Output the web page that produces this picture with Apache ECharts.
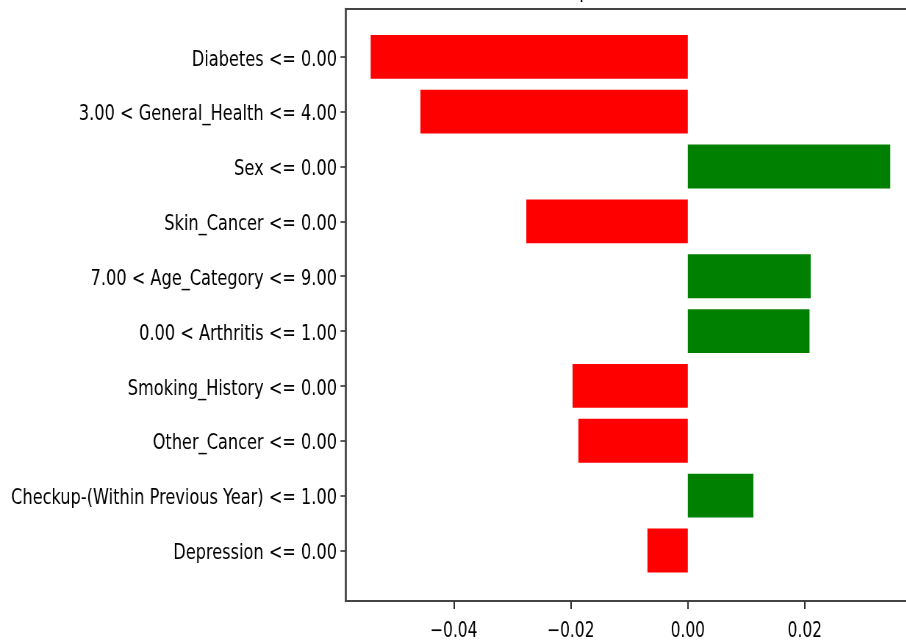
<!DOCTYPE html>
<html>
<head>
<meta charset="utf-8">
<title>Local explanation</title>
<script src="https://cdn.jsdelivr.net/npm/echarts@6/dist/echarts.min.js"></script>
<style>
  html, body { margin: 0; padding: 0; background: #fff; }
  #wrap { position: absolute; left: 0; top: 0; width: 906px; height: 640px; overflow: hidden; background: #fff; }
  #chart { position: absolute; left: 0; top: 0; width: 1500px; height: 640px; transform: scaleX(0.735); transform-origin: 0 0; }
</style>
</head>
<body>
<div id="wrap"><div id="chart"></div></div>
<script>
// Feature conditions (top to bottom) and their local weights
const categories = [
  'Diabetes <= 0.00',
  '3.00 < General_Health <= 4.00',
  'Sex <= 0.00',
  'Skin_Cancer <= 0.00',
  '7.00 < Age_Category <= 9.00',
  '0.00 < Arthritis <= 1.00',
  'Smoking_History <= 0.00',
  'Other_Cancer <= 0.00',
  'Checkup-(Within Previous Year) <= 1.00',
  'Depression <= 0.00'
];
const weights = [-0.0542, -0.0457, 0.0346, -0.0276, 0.0210, 0.0208, -0.0197, -0.0187, 0.0112, -0.0069];
const xTicks = [-0.04, -0.02, 0.00, 0.02];
const titleText = 'Local explanation for class 1';

// The figure is drawn wide and squeezed horizontally by K.
const K = 0.735;
const sx = v => v / K;

const X_MIN = -0.0585, X_MAX = 0.039;
const FRAME_LEFT = 345.5, FRAME_WIDTH = 570.5, FRAME_TOP = 9, FRAME_BOTTOM = 640 - 601;
// the spines run on past the right edge of the view; same x scale
const SPINE_WIDTH = 760;
const X_MAX_SPINE = X_MIN + (X_MAX - X_MIN) * SPINE_WIDTH / FRAME_WIDTH;
const BAND_TOP = 29.4, BAND_BOTTOM = 640 - 577.9;
const LABEL_SHIFT = 3;
const FONT = 'DejaVu Sans';
const FRAME_LINE = { color: '#444', width: 2 };

const fmt = v => {
  const s = Math.abs(v).toFixed(2);
  return v < -1e-9 ? '\u2212' + s : s;
};

const chart = echarts.init(document.getElementById('chart'), null, { renderer: 'canvas' });

chart.setOption({
  animation: false,
  backgroundColor: '#ffffff',
  title: {
    text: titleText,
    left: sx(FRAME_LEFT + FRAME_WIDTH / 2),
    textAlign: 'center',
    top: -27,
    textStyle: { fontFamily: FONT, fontSize: 25, fontWeight: 'normal', color: '#000' }
  },
  grid: [
    { // bars and y ticks: one band per feature
      left: sx(FRAME_LEFT), width: sx(FRAME_WIDTH),
      top: BAND_TOP, bottom: BAND_BOTTOM,
      outerBoundsMode: 'none', containLabel: false
    },
    { // spines (left, top, bottom) and x ticks
      left: sx(FRAME_LEFT), width: sx(SPINE_WIDTH),
      top: FRAME_TOP, bottom: FRAME_BOTTOM,
      outerBoundsMode: 'none', containLabel: false
    },
    { // y tick labels, set a little below the tick centres
      left: sx(FRAME_LEFT), width: sx(FRAME_WIDTH),
      top: BAND_TOP + LABEL_SHIFT, bottom: BAND_BOTTOM - LABEL_SHIFT,
      outerBoundsMode: 'none', containLabel: false
    }
  ],
  xAxis: [
    {
      gridIndex: 0, type: 'value', min: X_MIN, max: X_MAX, show: false
    },
    {
      gridIndex: 1, type: 'value', position: 'bottom', min: X_MIN, max: X_MAX_SPINE,
      axisLine: { show: true, onZero: false, lineStyle: FRAME_LINE },
      splitLine: { show: false },
      axisTick: { show: true, length: 8, customValues: xTicks, lineStyle: { color: '#333', width: 2 } },
      axisLabel: {
        show: true, customValues: xTicks, margin: 20,
        formatter: v => fmt(v),
        fontFamily: FONT, fontSize: 21, color: '#000'
      }
    },
    {
      gridIndex: 1, type: 'value', position: 'top', min: X_MIN, max: X_MAX_SPINE,
      axisLine: { show: true, onZero: false, lineStyle: FRAME_LINE },
      axisTick: { show: false }, axisLabel: { show: false }, splitLine: { show: false }
    },
    {
      gridIndex: 2, type: 'value', min: X_MIN, max: X_MAX, show: false
    }
  ],
  yAxis: [
    {
      gridIndex: 0, type: 'category', data: categories, inverse: true,
      axisLine: { show: false, onZero: false },
      splitLine: { show: false },
      axisTick: { show: true, alignWithLabel: true, length: sx(5), lineStyle: { color: '#333', width: 1.6 } },
      axisLabel: { show: false }
    },
    {
      gridIndex: 1, type: 'value', min: 0, max: 1, position: 'left',
      axisLine: { show: true, onZero: false, lineStyle: { color: '#444', width: sx(2) } },
      axisTick: { show: false }, axisLabel: { show: false }, splitLine: { show: false }
    },
    {
      gridIndex: 2, type: 'category', data: categories, inverse: true,
      axisLine: { show: false, onZero: false },
      axisTick: { show: false }, splitLine: { show: false },
      axisLabel: { margin: sx(8.5), fontFamily: FONT, fontSize: 22, color: '#000' }
    }
  ],
  series: [
    {
      type: 'bar',
      xAxisIndex: 0, yAxisIndex: 0,
      barWidth: '80%',
      data: weights.map(w => ({
        value: w,
        itemStyle: { color: w >= 0 ? '#008000' : '#ff0000' }
      })),
      label: { show: false }
    }
  ]
});
</script>
</body>
</html>
